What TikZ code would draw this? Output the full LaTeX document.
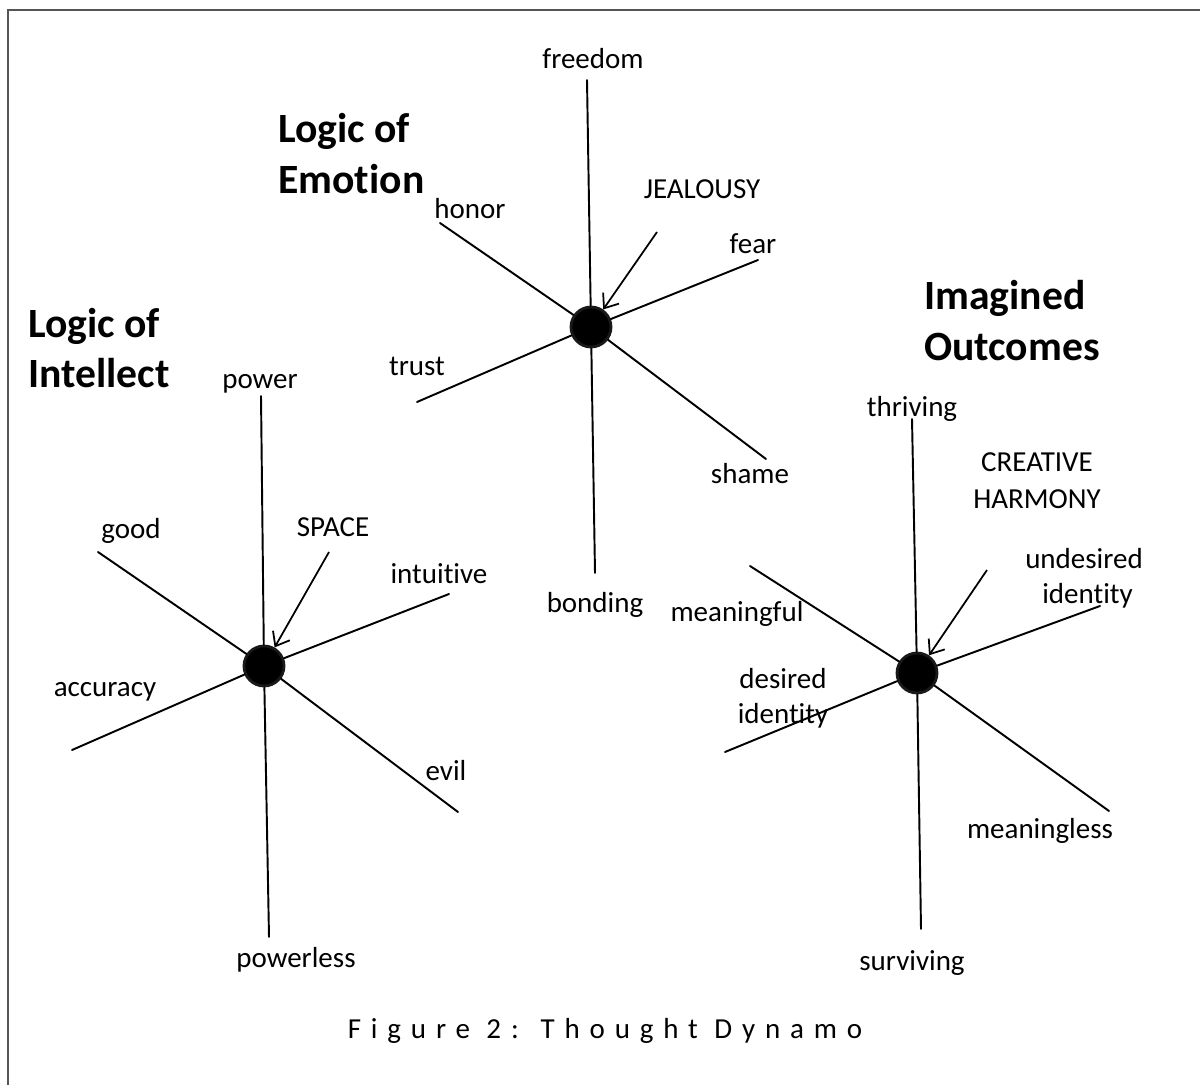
\documentclass[tikz,border=0pt]{standalone}
\usepackage{fontspec}
\setmainfont{Carlito}[Ligatures={NoCommon}]
\newfontfamily\capfont[LetterSpace=34,Ligatures={NoCommon}]{Carlito}
\usetikzlibrary{arrows.meta}
\definecolor{framecol}{HTML}{555555}
\tikzset{
  lbl/.style={font=\fontsize{16.5}{19.9}\selectfont, anchor=base, align=center, inner sep=0pt},
  ttl/.style={font=\fontsize{23.7}{28}\selectfont\bfseries, anchor=base west, inner sep=0pt},
  hub/.style={circle, fill=black, draw=black!90, line width=1.6pt, minimum size=0.8cm, inner sep=0pt},
  spoke/.style={line width=1.1pt, line cap=round},
  arr/.style={line width=1pt, -{Straight Barb[length=7pt, width=11pt]}},
  framel/.style={draw=framecol, line width=1.2pt},
}
\begin{document}
\begin{tikzpicture}[x=0.02cm, y=-0.02cm]
\useasboundingbox (0,0) rectangle (1200,1085);
% frame
\draw[framel] (1200,10) -- (8,10) -- (8,1085);

% ---------- Logic of Emotion ----------
\node[ttl] (tE1) at (278,142) {Logic of};
\node[ttl] (tE2) at (278,193) {Emotion};
\node[hub] (E) at (591,327) {};
\coordinate (Efree) at (587,80);
\coordinate (Ebond) at (595,573);
\coordinate (Ehon) at (440,223);
\coordinate (Esha) at (766,459);
\coordinate (Efear) at (758,260);
\coordinate (Etru) at (417,402);
\coordinate (Ejs) at (657,232);
\draw[spoke] (E) -- (Efree);
\draw[spoke] (E) -- (Ebond);
\draw[spoke] (E) -- (Ehon);
\draw[spoke] (E) -- (Esha);
\draw[spoke] (E) -- (Efear);
\draw[spoke] (E) -- (Etru);
\draw[arr] (Ejs) -- (E);
\node[lbl] (lfree) at (593,68) {freedom};
\node[lbl] (lhon) at (470,218) {honor};
\node[lbl] (ljeal) at (702,198) {JEALOUSY};
\node[lbl] (lfear) at (753,253) {fear};
\node[lbl] (ltru) at (417,375) {trust};
\node[lbl] (lsha) at (750,483) {shame};
\node[lbl] (lbond) at (595,612) {bonding};

% ---------- Logic of Intellect ----------
\node[ttl] (tI1) at (28,337) {Logic of};
\node[ttl] (tI2) at (28,387) {Intellect};
\node[hub] (I) at (264,666) {};
\coordinate (Ipow) at (261,396);
\coordinate (Ipl) at (269,937);
\coordinate (Igood) at (98,552);
\coordinate (Ievil) at (458,812);
\coordinate (Iint) at (449,594);
\coordinate (Iacc) at (72,750);
\coordinate (Isp) at (329,552);
\draw[spoke] (I) -- (Ipow);
\draw[spoke] (I) -- (Ipl);
\draw[spoke] (I) -- (Igood);
\draw[spoke] (I) -- (Ievil);
\draw[spoke] (I) -- (Iint);
\draw[spoke] (I) -- (Iacc);
\draw[arr] (Isp) -- (I);
\node[lbl] (lpow) at (260,388) {power};
\node[lbl] (lgood) at (131,538) {good};
\node[lbl] (lspace) at (333,536) {SPACE};
\node[lbl] (lint) at (439,583) {intuitive};
\node[lbl] (lacc) at (105,696) {accuracy};
\node[lbl] (levil) at (446,780) {evil};
\node[lbl] (lpl) at (296,967) {powerless};

% ---------- Imagined Outcomes ----------
\node[ttl] (tO1) at (924,309) {Imagined};
\node[ttl] (tO2) at (924,360) {Outcomes};
\node[hub] (O) at (917,673) {};
\coordinate (Othr) at (912,419);
\coordinate (Osur) at (921,929);
\coordinate (Omf) at (750,566);
\coordinate (Oml) at (1109,811);
\coordinate (Oun) at (1100,606);
\coordinate (Ode) at (725,752);
\coordinate (Ocr) at (987,570);
\draw[spoke] (O) -- (Othr);
\draw[spoke] (O) -- (Osur);
\draw[spoke] (O) -- (Omf);
\draw[spoke] (O) -- (Oml);
\draw[spoke] (O) -- (Oun);
\draw[spoke] (O) -- (Ode);
\draw[arr] (Ocr) -- (O);
\node[lbl] (lthr) at (912,416) {thriving};
\node[lbl, font=\fontsize{16.5}{21}\selectfont] (lcr) at (1037,508) {CREATIVE\\HARMONY};
\node[lbl] (lun) at (1084,603) {undesired\\\hspace*{4pt}identity};
\node[lbl] (lmf) at (737,621) {meaningful};
\node[lbl] (lde) at (783,723) {desired\\identity};
\node[lbl] (lml) at (1040,838) {meaningless};
\node[lbl] (lsur) at (912,970) {surviving};

% caption
\node[anchor=base, inner sep=0pt, font=\capfont\fontsize{16.5}{19.9}\selectfont] (cap) at (605,1038) {Figure 2: Thought Dynamo};
\end{tikzpicture}
\end{document}
